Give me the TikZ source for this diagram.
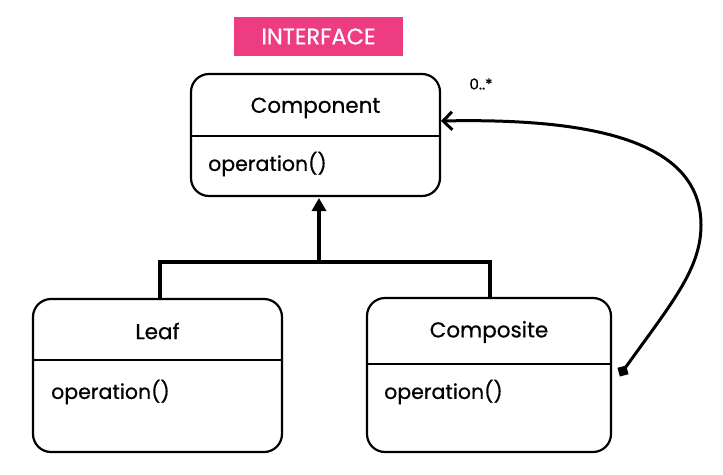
\documentclass[tikz,border=0pt]{standalone}
\usepackage{fontspec}
\setmainfont{Poppins}[FakeBold=0.6]
\usetikzlibrary{arrows.meta}
\definecolor{pinkbg}{HTML}{EE3C82}
\begin{document}
\begin{tikzpicture}[x=1pt,y=-1pt,
  classbox/.style={draw=black,line width=2.2pt,rounded corners=18pt,fill=none,inner sep=0pt},
  divider/.style={line width=2pt},
  conn/.style={line width=3.4pt},
  lbl/.style={font=\fontsize{21.5}{24}\selectfont,inner sep=0pt},
  oplbl/.style={font=\fontsize{20.5}{24}\selectfont,inner sep=0pt,anchor=west}]
\useasboundingbox (0,0) rectangle (723,474);
% interface tag
\node[fill=pinkbg,minimum width=169pt,minimum height=39pt,inner sep=0pt,text=white,font=\fontsize{22.5}{26}\selectfont] (tag) at (318.5,36.5) {INTERFACE};
% boxes
\node[classbox,minimum width=249pt,minimum height=122pt] (comp) at (315.5,135) {};
\node[classbox,minimum width=249pt,minimum height=153pt] (leaf) at (157.5,375.5) {};
\node[classbox,minimum width=244pt,minimum height=154pt] (compos) at (489,375) {};
% dividers
\draw[divider] (191,136) -- (440,136);
\draw[divider] (33,360) -- (282,360);
\draw[divider] (367,364) -- (611,364);
% texts
\node[lbl] (tcomp) at (315.5,108) {Component};
\node[oplbl] (ocomp) at (208,164) {operation()};
\node[lbl] (tleaf) at (157.5,331) {Leaf};
\node[oplbl] (oleaf) at (51,392) {operation()};
\node[lbl] (tcompos) at (489,332) {Composite};
\node[oplbl] (ocompos) at (384,392) {operation()};
\node[font=\fontsize{15}{17}\selectfont,inner sep=0pt] (mult) at (481,84) {0..*};
% inheritance
\coordinate (junc) at (319,262);
\draw[conn,-{Triangle[length=13pt,width=14pt]}] (junc) -- (319,198);
\draw[conn] (160,299) |- (490,262) -- (490,298);
% composition curve
\node[fill=black,minimum size=9pt,inner sep=0pt,rotate=15] (sq) at (623,371) {};
\coordinate (bend) at (701,225);
\draw[conn,line width=3pt,-{Straight Barb[length=9pt,width=18pt,line width=3pt]}] (sq.center) .. controls (670,305) and (701,270) .. (bend) .. controls (701,140) and (590,118) .. (441,121);
\end{tikzpicture}
\end{document}
